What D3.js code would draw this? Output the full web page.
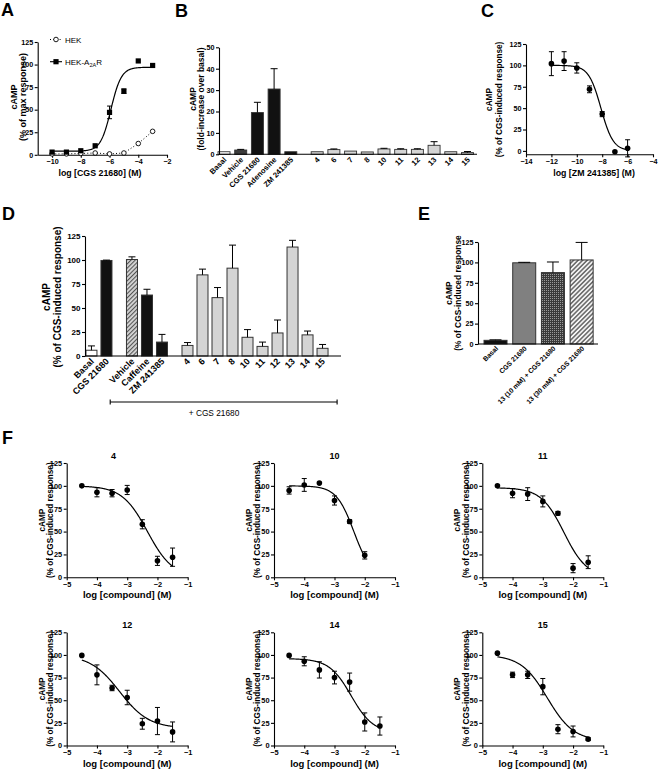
<!DOCTYPE html>
<html><head><meta charset="utf-8">
<script src="https://cdn.jsdelivr.net/npm/d3@7"></script>
<style>body{margin:0;background:#fff} svg{display:block}</style>
</head><body>
<script>
const FONT = "'Liberation Sans', Arial, Helvetica, sans-serif";

// ================= DATA =================
// Panel A
const aDoses   = [-10,-9,-8,-7,-6,-5,-4,-3];
const aHEK     = [1,1,1.5,2,1,2,12.5,26];
const aA2AR    = [3,3,4.5,10,47,70.5,104,99];
const aA2ARErr = [0,0,0,0,7,2.5,0,0];
const aFit     = [4,97,-5.9,1.2];          // bottom, top, logEC50, hill
const aXTicks  = [-10,-8,-6,-4,-2];
const aYTicks  = [0,25,50,75,100,125];

// Panel B
const bCategories = ["Basal","Vehicle","CGS 21680","Adenosine","ZM 241385","4","6","7","8","10","11","12","13","14","15"];
const bGroups     = ["basal","vehicle","ligand","ligand","ligand","cmp","cmp","cmp","cmp","cmp","cmp","cmp","cmp","cmp","cmp"];
const bValues     = [1.2,2,19.5,30.5,1.2,1.2,2.2,1.5,1.1,2.5,2.3,2.3,4.2,1.2,0.8];
const bErrors     = [0,0.3,4.8,9.5,0,0,0.3,0,0,0.3,0.3,0.3,1.7,0,0.5];
const bYTicks     = [0,10,20,30,40,50];

// Panel C
const cDoses  = [-12,-11,-10,-9,-8,-7,-6];
const cValues = [102,105,97,72,43,-1,3];
const cErrors = [14,11,6,4,3,0,10];
const cFit    = [0,100,-8.1,0.9];
const cXTicks = [-14,-12,-10,-8,-6,-4];
const cYTicks = [0,25,50,75,100,125];

// Panel D
const dCategories = ["Basal","CGS 21680","Vehicle","Caffeine","ZM 241385","4","6","7","8","10","11","12","13","14","15"];
const dGroups     = ["basal","ligand","vehicle","ligand","ligand","cmp","cmp","cmp","cmp","cmp","cmp","cmp","cmp","cmp","cmp"];
const dSet        = [0,0,1,1,1,2,2,2,2,2,2,2,2,2,2];
const dValues     = [6,99.5,100.5,63.5,14.5,11,84.5,60.8,91.5,19.5,10,24,113.5,22,8];
const dErrors     = [4.5,0.4,2.8,6,8,3,6,10.5,24,8,4.5,13.5,7,4,4];
const dYTicks     = [0,25,50,75,100,125];
const dBracketText = "+ CGS 21680";

// Panel E
const eCategories = ["Basal","CGS 21680","13 (10 mM) + CGS 21680","13 (30 mM) + CGS 21680"];
const eValues     = [4.5,99.5,87.5,103];
const eErrors     = [0.6,0.6,13,21.5];
const eYTicks     = [0,25,50,75,100,125];

// Panel F
const fTitles   = ["4","10","11","12","14","15"];
const fDoses    = [-4.5,-4,-3.5,-3,-2.5,-2,-1.5];
const f4Values  = [100,93,92,95.5,58,18,22];
const f4Errors  = [0,5,4,5,5,5,10];
const f10Values = [95,101,103,84,61,24];
const f10Errors = [4,7,0,5,2,4];
const f11Values = [100,92,91,83,70,10,16.5];
const f11Errors = [0,5,7,6,2,5,7];
const f12Values = [99.5,78,63.5,53,24,27,15];
const f12Errors = [0,11,3,8,6,15,11];
const f14Values = [99.5,93,83.5,75,70,26,21.5];
const f14Errors = [0,5,9,7,10,10,10];
const f15Values = [102,78,78,65,18,15.5,7];
const f15Errors = [0,3,4,9,5,6,1.5];
const f4Fit  = [0,100,-2.33,1.04];
const f10Fit = [0,100,-2.36,1.5];
const f11Fit = [0,98,-2.3,1.15];
const f12Fit = [19,100,-3.25,0.9];
const f14Fit = [14,96,-2.45,1.2];
const f15Fit = [5,100,-2.85,1.0];
const fXTicks = [-5,-4,-3,-2,-1];
const fYTicks = [0,25,50,75,100,125];

// ================= HELPERS =================
const svg = d3.select("body").append("svg").attr("width",660).attr("height",770)
  .style("font-family",FONT);
const defs = svg.append("defs");
(function(){
  const p1 = defs.append("pattern").attr("id","hatchD").attr("patternUnits","userSpaceOnUse")
    .attr("width",3).attr("height",3).attr("patternTransform","rotate(45)");
  p1.append("rect").attr("width",3).attr("height",3).attr("fill","#d6d6d6");
  p1.append("line").attr("x1",0.5).attr("y1",0).attr("x2",0.5).attr("y2",3).attr("stroke","#555").attr("stroke-width",1.2);
  const p2 = defs.append("pattern").attr("id","dotsE").attr("patternUnits","userSpaceOnUse")
    .attr("width",2).attr("height",2);
  p2.append("rect").attr("width",2).attr("height",2).attr("fill","#3a3a3a");
  p2.append("rect").attr("width",1).attr("height",1).attr("fill","#9a9a9a");
  const p3 = defs.append("pattern").attr("id","hatchE").attr("patternUnits","userSpaceOnUse")
    .attr("width",3.2).attr("height",3.2).attr("patternTransform","rotate(45)");
  p3.append("rect").attr("width",3.2).attr("height",3.2).attr("fill","#f4f4f4");
  p3.append("line").attr("x1",0.8).attr("y1",0).attr("x2",0.8).attr("y2",3.2).attr("stroke","#666").attr("stroke-width",1.5);
})();

function styleAxis(ax, fs){
  ax.selectAll("text").attr("font-size",fs).attr("font-weight","bold").attr("fill","#000").attr("font-family",FONT);
  ax.selectAll("path,line").attr("stroke","#000").attr("stroke-width",1.1);
}
function yAxis(scale, x0, ticks, fs){
  const ax = svg.append("g").attr("transform",`translate(${x0},0)`)
    .call(d3.axisLeft(scale).tickValues(ticks).tickSize(3).tickSizeOuter(0).tickPadding(1.5).tickFormat(d3.format("d")));
  styleAxis(ax, fs); return ax;
}
function xAxis(scale, y0, ticks, fs){
  const ax = svg.append("g").attr("transform",`translate(0,${y0})`)
    .call(d3.axisBottom(scale).tickValues(ticks).tickSize(3).tickSizeOuter(0).tickPadding(1.5).tickFormat(d3.format("d")));
  styleAxis(ax, fs); return ax;
}
function text(x,y,s,fs,opt={}){
  const t = svg.append("text").attr("x",x).attr("y",y).attr("font-size",fs)
    .attr("font-weight",opt.weight||"bold").attr("text-anchor",opt.anchor||"middle").attr("fill","#000").text(s);
  return t;
}
function yLabel(lines, cy){
  lines.forEach(([s,cx,fs])=>{
    svg.append("text").attr("transform",`translate(${cx+0.36*fs},${cy}) rotate(-90)`)
      .attr("text-anchor","middle").attr("font-size",fs).attr("font-weight","bold").attr("fill","#000").text(s);
  });
}
function letter(s,x,y){ text(x,y,s,18,{anchor:"start"}); }
function sigmoid(x, fit, dir){
  const [b,t,c,h] = fit;
  return b + (t-b)/(1+Math.pow(10, dir*(c-x)*h));
}
function curve(x, y, fit, dir, x0, x1){
  const xs = d3.range(0,201).map(i=>x0+(x1-x0)*i/200);
  svg.append("path").attr("d", d3.line().x(d=>x(d)).y(d=>y(sigmoid(d,fit,dir)))(xs))
    .attr("fill","none").attr("stroke","#000").attr("stroke-width",1.2);
}
function errBars(x, y, doses, vals, errs, cap, both){
  doses.forEach((d,i)=>{
    if(!errs[i]) return;
    const g = svg.append("g").attr("stroke","#000").attr("stroke-width",1);
    const yt = y(vals[i]+errs[i]), yb = both ? y(vals[i]-errs[i]) : y(vals[i]);
    g.append("line").attr("x1",x(d)).attr("x2",x(d)).attr("y1",yt).attr("y2",yb);
    g.append("line").attr("x1",x(d)-cap/2).attr("x2",x(d)+cap/2).attr("y1",yt).attr("y2",yt);
    if(both) g.append("line").attr("x1",x(d)-cap/2).attr("x2",x(d)+cap/2).attr("y1",yb).attr("y2",yb);
  });
}
function dots(x,y,doses,vals,r){
  svg.append("g").selectAll("circle").data(doses).join("circle")
    .attr("cx",d=>x(d)).attr("cy",(d,i)=>y(vals[i])).attr("r",r).attr("fill","#000");
}

// ================= PANEL A =================
letter("A",1,16);
{
  const x = d3.scaleLinear().domain([-11,-2]).range([37.7,167]);
  const y = d3.scaleLinear().domain([0,125]).range([154.8,42]);
  yAxis(y, 37.7, aYTicks, 7.2);
  xAxis(x, 154.8, aXTicks, 7.2);
  svg.append("path").attr("d", d3.line().x((d,i)=>x(d)).y((d,i)=>y(aHEK[i]))(aDoses))
    .attr("fill","none").attr("stroke","#000").attr("stroke-width",1).attr("stroke-dasharray","1,2.2");
  curve(x,y,aFit,1,-10,-3);
  errBars(x,y,aDoses,aA2AR,aA2ARErr,5,true);
  svg.append("g").selectAll("circle").data(aDoses).join("circle")
    .attr("cx",d=>x(d)).attr("cy",(d,i)=>y(aHEK[i])).attr("r",2.3)
    .attr("fill","#fff").attr("stroke","#000").attr("stroke-width",0.9);
  svg.append("g").selectAll("rect").data(aDoses).join("rect")
    .attr("x",d=>x(d)-2.6).attr("y",(d,i)=>y(aA2AR[i])-2.6).attr("width",5.2).attr("height",5.2).attr("fill","#000");
  // legend
  svg.append("line").attr("x1",50).attr("x2",62).attr("y1",39.5).attr("y2",39.5).attr("stroke","#000").attr("stroke-dasharray","1,2.2");
  svg.append("circle").attr("cx",56).attr("cy",39.5).attr("r",2.3).attr("fill","#fff").attr("stroke","#000").attr("stroke-width",0.9);
  text(65,42.5,"HEK",8,{anchor:"start",weight:"normal"});
  svg.append("line").attr("x1",50).attr("x2",62).attr("y1",61.7).attr("y2",61.7).attr("stroke","#000").attr("stroke-width",1.1);
  svg.append("rect").attr("x",53.4).attr("y",59.1).attr("width",5.2).attr("height",5.2).attr("fill","#000");
  const t = svg.append("text").attr("x",65).attr("y",64.7).attr("font-size",8).attr("fill","#000");
  t.append("tspan").text("HEK-A");
  t.append("tspan").attr("font-size",5.5).attr("dy",2).text("2A");
  t.append("tspan").attr("dy",-2).text("R");
  text(100,175.5,"log [CGS 21680] (M)",8.8);
  yLabel([["cAMP",13.5,9],["(% of max response)",22.5,9]],97);
}

// ================= PANEL B =================
letter("B",175,17);
{
  const gap = 0.58;
  const pos = i => i + (i>=5 ? gap : 0);
  const x = d3.scaleLinear().domain([-0.3,15.15]).range([219,477]);
  const y = d3.scaleLinear().domain([0,50]).range([154.3,47.3]);
  const fill = {basal:"#fff",vehicle:"#3c3c3c",ligand:"#111",cmp:"#d4d4d4"};
  const bw = 12;
  bCategories.forEach((c,i)=>{
    const cx = x(pos(i));
    svg.append("rect").attr("x",cx-bw/2).attr("y",y(bValues[i])).attr("width",bw)
      .attr("height",y(0)-y(bValues[i])).attr("fill",fill[bGroups[i]]).attr("stroke","#333").attr("stroke-width",0.9);
  });
  errBars(d=>x(pos(d)), y, d3.range(bCategories.length), bValues, bErrors, 7, false);
  yAxis(y, 219, bYTicks, 7.2);
  svg.append("line").attr("x1",219).attr("x2",477).attr("y1",y(0)).attr("y2",y(0)).attr("stroke","#000").attr("stroke-width",1.1);
  bCategories.forEach((c,i)=>{
    svg.append("text").attr("transform",`translate(${x(pos(i))+3},${y(0)+6}) rotate(-45)`)
      .attr("text-anchor","end").attr("font-size",7.6).attr("font-weight","bold").attr("fill","#000").text(c);
  });
  yLabel([["cAMP",192.5,8.5],["(fold-increase over basal)",200.5,8.5]],99);
}

// ================= PANEL C =================
letter("C",481,17);
{
  const x = d3.scaleLinear().domain([-14,-4]).range([526,653]);
  const y = d3.scaleLinear().domain([-4,125]).range([154.3,44]);
  yAxis(y, 526, cYTicks, 7.2);
  xAxis(x, 154.3, cXTicks, 7.2);
  curve(x,y,cFit,-1,-12,-6);
  errBars(x,y,cDoses,cValues,cErrors,5,true);
  dots(x,y,cDoses,cValues,2.8);
  text(594,176,"log [ZM 241385] (M)",8.8);
  yLabel([["cAMP",489.5,8.2],["(% of CGS-induced response)",499.5,8.2]],99.5);
}

// ================= PANEL D =================
letter("D",2,220);
{
  const pos = i => i + 0.7*dSet[i];
  const x = d3.scaleLinear().domain([-0.43,16.63]).range([85,341]);
  const y = d3.scaleLinear().domain([0,125]).range([356,236]);
  const fill = {basal:"#fff",vehicle:"url(#hatchD)",ligand:"#111",cmp:"#d4d4d4"};
  const bw = 11;
  dCategories.forEach((c,i)=>{
    const cx = x(pos(i));
    svg.append("rect").attr("x",cx-bw/2).attr("y",y(dValues[i])).attr("width",bw)
      .attr("height",y(0)-y(dValues[i])).attr("fill",fill[dGroups[i]]).attr("stroke","#333").attr("stroke-width",1);
  });
  errBars(d=>x(pos(d)), y, d3.range(dCategories.length), dValues, dErrors, 7, false);
  yAxis(y, 85, dYTicks, 8);
  svg.append("line").attr("x1",85).attr("x2",341).attr("y1",y(0)).attr("y2",y(0)).attr("stroke","#000").attr("stroke-width",1.1);
  dCategories.forEach((c,i)=>{
    svg.append("text").attr("transform",`translate(${x(pos(i))+3},${y(0)+6}) rotate(-45)`)
      .attr("text-anchor","end").attr("font-size",9).attr("font-weight","bold").attr("fill","#000").text(c);
  });
  const bx0 = x(1.25), bx1 = x(16.37), by = 402;
  const bg = svg.append("g").attr("stroke","#000").attr("stroke-width",1.1);
  bg.append("line").attr("x1",bx0).attr("x2",bx1).attr("y1",by).attr("y2",by);
  bg.append("line").attr("x1",bx0).attr("x2",bx0).attr("y1",by-2.5).attr("y2",by+2.5);
  bg.append("line").attr("x1",bx1).attr("x2",bx1).attr("y1",by-2.5).attr("y2",by+2.5);
  text(214,416,dBracketText,8.3,{weight:"normal"});
  yLabel([["cAMP",46.5,10],["(% of CGS-induced response)",57.5,10]],297);
}

// ================= PANEL E =================
letter("E",418,220);
{
  const x = d3.scaleLinear().domain([-0.61,3.57]).range([478,598]);
  const y = d3.scaleLinear().domain([0,125]).range([344,242]);
  const fills = ["#111","#808080","url(#dotsE)","url(#hatchE)"];
  const bw = 23;
  eCategories.forEach((c,i)=>{
    svg.append("rect").attr("x",x(i)-bw/2).attr("y",y(eValues[i])).attr("width",bw)
      .attr("height",y(0)-y(eValues[i])).attr("fill",fills[i]).attr("stroke","#333").attr("stroke-width",1);
  });
  errBars(x, y, d3.range(4), eValues, eErrors, 12, false);
  yAxis(y, 478, eYTicks, 7.2);
  svg.append("line").attr("x1",478).attr("x2",598).attr("y1",y(0)).attr("y2",y(0)).attr("stroke","#000").attr("stroke-width",1.1);
  eCategories.forEach((c,i)=>{
    svg.append("text").attr("transform",`translate(${x(i)+3},${y(0)+5}) rotate(-45)`)
      .attr("text-anchor","end").attr("font-size",6.8).attr("font-weight","bold").attr("fill","#000").text(c);
  });
  yLabel([["cAMP",449,8.4],["(% of CGS-induced response",458,8.4]],293);
}

// ================= PANEL F =================
letter("F",2,444);
{
  const fVals = [f4Values,f10Values,f11Values,f12Values,f14Values,f15Values];
  const fErrs = [f4Errors,f10Errors,f11Errors,f12Errors,f14Errors,f15Errors];
  const fFits = [f4Fit,f10Fit,f11Fit,f12Fit,f14Fit,f15Fit];
  const colX = [66.7,274,482.3];
  const rowY = [[577.3,463],[745.5,632.3]];
  const titleY = [458.5,628];
  const xLabY = [598,767];
  fTitles.forEach((tl,k)=>{
    const col = k%3, row = Math.floor(k/3);
    const x0 = colX[col];
    const x = d3.scaleLinear().domain([-5,-1]).range([x0,x0+121]);
    const y = d3.scaleLinear().domain([0,125]).range(rowY[row]);
    const doses = fDoses.slice(0,fVals[k].length);
    yAxis(y, x0, fYTicks, 7.4);
    xAxis(x, rowY[row][0], fXTicks, 7.4);
    curve(x,y,fFits[k],-1,doses[0],doses[doses.length-1]);
    errBars(x,y,doses,fVals[k],fErrs[k],5,true);
    dots(x,y,doses,fVals[k],2.8);
    const tx = k===0 ? x(-3.45) : x(-3);
    text(tx,titleY[row],tl,9);
    text(x(-3),xLabY[row],"log [compound] (M)",9.5);
    yLabel([["cAMP",x0-25,8.2],["(% of CGS-induced response)",x0-16.7,8.2]],(rowY[row][0]+rowY[row][1])/2);
  });
}
</script>
</body></html>
